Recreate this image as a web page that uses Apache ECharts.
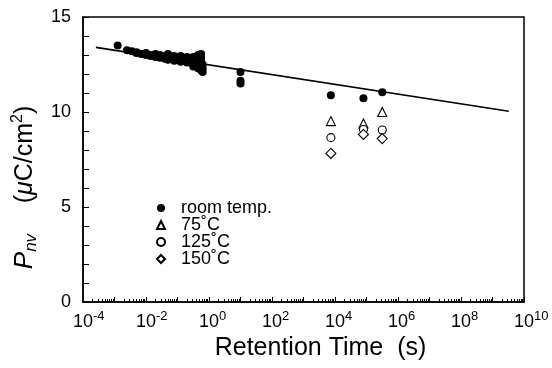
<!DOCTYPE html>
<html>
<head>
<meta charset="utf-8">
<script src="https://cdn.jsdelivr.net/npm/echarts@6/dist/echarts.min.js"></script>
<style>html,body{margin:0;padding:0;background:#fff}#c{width:552px;height:368px}</style>
</head>
<body>
<div id="c"></div>
<script>
// ---- data ----
const roomTime = [0.00126, 0.0025, 0.00355, 0.005, 0.005, 0.0071, 0.01, 0.01, 0.014, 0.014, 0.02, 0.02, 0.028, 0.028,
  0.04, 0.04, 0.05, 0.05, 0.05, 0.079, 0.079, 0.079, 0.126, 0.126, 0.126, 0.2, 0.2, 0.2,
  0.316, 0.316, 0.316, 0.316, 0.45, 0.45, 0.45, 0.45, 0.45, 0.56, 0.56, 0.56, 0.56, 0.56, 0.56, 0.56,
  0.63, 0.63, 0.63, 10, 10, 10, 7400, 80000, 316000];
const roomVal = [13.5, 13.25, 13.2, 13.1, 13.15, 13.05, 13.0, 13.1, 12.95, 13.0, 12.9, 13.05, 12.85, 13.0,
  12.8, 12.95, 12.75, 12.9, 13.05, 12.7, 12.85, 12.95, 12.65, 12.8, 12.95, 12.6, 12.75, 12.9,
  12.5, 12.7, 12.9, 12.4, 12.45, 12.6, 12.8, 13.0, 12.3, 12.2, 12.4, 12.55, 12.7, 12.85, 13.0, 13.05,
  12.1, 12.3, 12.5, 12.1, 11.65, 11.5, 10.88, 10.72, 11.04];
const t75Time = [7400, 80000, 316000];
const t75Val = [9.52, 9.4, 10.0];
const t125Time = [7400, 80000, 316000];
const t125Val = [8.65, 9.08, 9.05];
const t150Time = [7400, 80000, 316000];
const t150Val = [7.82, 8.82, 8.6];
const fitTime = [2.57e-4, 3.3e9];
const fitVal = [13.40, 10.04];
const seriesNames = ['room temp.', '75˚C', '125˚C', '150˚C'];
const xTickExps = [-4, -2, 0, 2, 4, 6, 8, 10];
const yTicks = [0, 5, 10, 15];

const zip = (a, b) => a.map((v, i) => [v, b[i]]);
const hollow = {color: '#fff', borderColor: '#000', borderWidth: 1.1, opacity: 1};

const chart = echarts.init(document.getElementById('c'), null, {renderer: 'canvas'});
chart.setOption({
  animation: false,
  textStyle: {fontFamily: 'Liberation Sans, Arial, sans-serif', color: '#000'},
  grid: {left: 83, right: 28, top: 17, bottom: 66, show: true, borderColor: '#000', borderWidth: 1.5, backgroundColor: 'transparent'},
  legend: {
    data: seriesNames,
    orient: 'vertical', left: 151, top: 194,
    itemWidth: 8, itemHeight: 8, itemGap: -1,
    textStyle: {fontSize: 18, lineHeight: 17, color: '#000', padding: [0, 0, 0, 11]},
    selectedMode: false
  },
  xAxis: {
    type: 'log', logBase: 10, min: 1e-4, max: 1e10, interval: 1,
    name: 'Retention Time  (s)', nameLocation: 'middle', nameGap: 34,
    nameTextStyle: {fontSize: 25, color: '#000', padding: [0, 0, 0, 34]},
    axisLine: {lineStyle: {color: '#000', width: 1.5}},
    axisTick: {inside: true, length: 5, lineStyle: {color: '#000'}},
    minorTick: {show: true, splitNumber: 9, length: 3, lineStyle: {color: '#000'}},
    splitLine: {show: false},
    axisLabel: {
      margin: 8, align: 'left', padding: [0, 0, 0, -10],
      formatter: v => {
        const e = Math.round(Math.log10(v));
        if (xTickExps.indexOf(e) < 0) return '';
        return '{b|10}{s|' + e + '}';
      },
      rich: {
        b: {fontSize: 18, lineHeight: 24, color: '#000'},
        s: {fontSize: 13, lineHeight: 13, verticalAlign: 'top', color: '#000'}
      }
    }
  },
  yAxis: {
    type: 'value', min: 0, max: 15, interval: 5,
    name: '{p|P}{sub|nv}{sp|     }{u|(}{mu|μ}{u|C/cm}{sup|2}{u|)}',
    nameLocation: 'middle', nameGap: 42, nameRotate: 90,
    nameTextStyle: {
      padding: [0, 56, 0, 0],
      rich: {
        p: {fontSize: 26, fontStyle: 'italic', lineHeight: 30, color: '#000'},
        sub: {fontSize: 17, fontStyle: 'italic', lineHeight: 16, verticalAlign: 'bottom', color: '#000'},
        sp: {fontSize: 22, lineHeight: 30},
        u: {fontSize: 25, lineHeight: 30, color: '#000'},
        mu: {fontSize: 25, fontStyle: 'italic', lineHeight: 30, color: '#000'},
        sup: {fontSize: 16, lineHeight: 15, verticalAlign: 'top', color: '#000'}
      }
    },
    axisLine: {lineStyle: {color: '#000', width: 1.5}},
    axisTick: {inside: true, length: 6, lineStyle: {color: '#000'}},
    minorTick: {show: true, splitNumber: 5, length: 6, lineStyle: {color: '#000'}},
    splitLine: {show: false},
    axisLabel: {
      fontSize: 18, margin: 12, color: '#000',
      formatter: v => yTicks.indexOf(v) >= 0 ? String(v) : ''
    }
  },
  series: [
    {name: 'fit', type: 'line', data: zip(fitTime, fitVal), showSymbol: false, symbol: 'none',
     lineStyle: {color: '#000', width: 1.6}, z: 1, silent: true},
    {name: seriesNames[0], type: 'scatter', data: zip(roomTime, roomVal), symbol: 'circle', symbolSize: 8,
     itemStyle: {color: '#000', opacity: 1}, z: 3},
    {name: seriesNames[1], type: 'scatter', data: zip(t75Time, t75Val), symbol: 'triangle', symbolSize: 9,
     itemStyle: hollow, z: 3},
    {name: seriesNames[2], type: 'scatter', data: zip(t125Time, t125Val), symbol: 'circle', symbolSize: 8,
     itemStyle: hollow, z: 3},
    {name: seriesNames[3], type: 'scatter', data: zip(t150Time, t150Val), symbol: 'diamond', symbolSize: 10,
     itemStyle: hollow, z: 3}
  ]
});
</script>
</body>
</html>
